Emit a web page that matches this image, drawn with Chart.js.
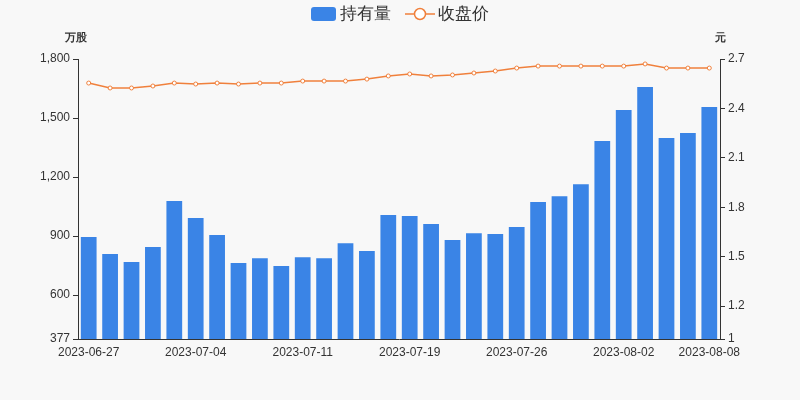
<!DOCTYPE html><html><head><meta charset="utf-8">
<script src="https://cdn.jsdelivr.net/npm/chart.js@4"></script>
<style>body{margin:0;background:#f8f8f8}#w{width:800px;height:400px}</style></head><body><div id="w"><canvas id="c"></canvas></div>
<script>
const categories=["2023-06-27","2023-06-28","2023-06-29","2023-06-30","2023-07-03","2023-07-04","2023-07-05","2023-07-06","2023-07-07","2023-07-10","2023-07-11","2023-07-12","2023-07-13","2023-07-14","2023-07-17","2023-07-19","2023-07-20","2023-07-21","2023-07-24","2023-07-25","2023-07-26","2023-07-27","2023-07-28","2023-07-31","2023-08-01","2023-08-02","2023-08-03","2023-08-04","2023-08-07","2023-08-08"];
const holdings=[895,809,768,844,1078,992,905,763,788,748,793,788,864,824,1007,1002,961,880,915,910,946,1073,1103,1164,1383,1541,1658,1398,1424,1556];
const prices=[2.554,2.524,2.524,2.536,2.554,2.548,2.554,2.548,2.554,2.554,2.566,2.566,2.566,2.578,2.597,2.609,2.597,2.603,2.615,2.627,2.645,2.657,2.657,2.657,2.657,2.657,2.67,2.645,2.645,2.645];
const shownDates=["2023-06-27","2023-07-04","2023-07-11","2023-07-19","2023-07-26","2023-08-02","2023-08-08"];
const leftTicks=[377,600,900,1200,1500,1800];
const rightTicks=[1,1.2,1.5,1.8,2.1,2.4,2.7];
const extras={id:'t',afterDraw(c){const x=c.ctx;x.save();
x.font='bold 11px sans-serif';x.fillStyle='#333';x.textAlign='center';x.textBaseline='alphabetic';
x.fillText('万股',c.scales.y.right-2,41);x.fillText('元',c.scales.y1.left+0,41);
x.fillStyle='#3a84e6';x.beginPath();x.roundRect(311,7,25,14,3);x.fill();
x.font='17px sans-serif';x.fillStyle='#333';x.textAlign='left';x.textBaseline='middle';x.fillText('持有量',340,14);
x.strokeStyle='#f0803c';x.lineWidth=1.5;x.beginPath();x.moveTo(405,14);x.lineTo(435,14);x.stroke();
x.fillStyle='#fff';x.beginPath();x.arc(420,14,5.5,0,Math.PI*2);x.fill();x.stroke();
x.fillStyle='#333';x.fillText('收盘价',438,14);
x.restore();}};
new Chart(document.getElementById('c'),{data:{labels:categories,datasets:[
{type:'bar',label:'持有量',data:holdings,backgroundColor:'#3a84e6',yAxisID:'y',categoryPercentage:0.8,barPercentage:0.92,order:2},
{type:'line',label:'收盘价',data:prices,borderColor:'#f0803c',backgroundColor:'#fff',borderWidth:1.5,pointRadius:2,pointBorderWidth:1,yAxisID:'y1',order:1}]},
options:{responsive:true,maintainAspectRatio:false,animation:false,layout:{padding:{left:0,right:0,top:59,bottom:0}},
plugins:{legend:{display:false},tooltip:{enabled:false}},
scales:{x:{grid:{display:false,drawOnChartArea:false,drawTicks:true,tickLength:5,tickColor:'#333'},afterFit(a){a.height=61;},border:{color:'#333'},ticks:{autoSkip:false,maxRotation:0,color:'#333',font:{size:12},padding:1,callback(v){const l=categories[v];return shownDates.includes(l)?l:'';}}},
y:{position:'left',min:377,max:1800,afterFit(a){a.width=78;},afterBuildTicks(a){a.ticks=leftTicks.map(v=>({value:v}));},grid:{drawOnChartArea:false,tickLength:5,tickColor:'#333'},border:{color:'#333'},ticks:{color:'#333',font:{size:12},callback:v=>v.toLocaleString('en-US')}},
y1:{position:'right',min:1,max:2.7,afterFit(a){a.width=80;},afterBuildTicks(a){a.ticks=rightTicks.map(v=>({value:v}));},grid:{drawOnChartArea:false,tickLength:5,tickColor:'#333'},border:{color:'#333'},ticks:{color:'#333',font:{size:12},callback:v=>String(v)}}}},
plugins:[extras]});
</script></body></html>
